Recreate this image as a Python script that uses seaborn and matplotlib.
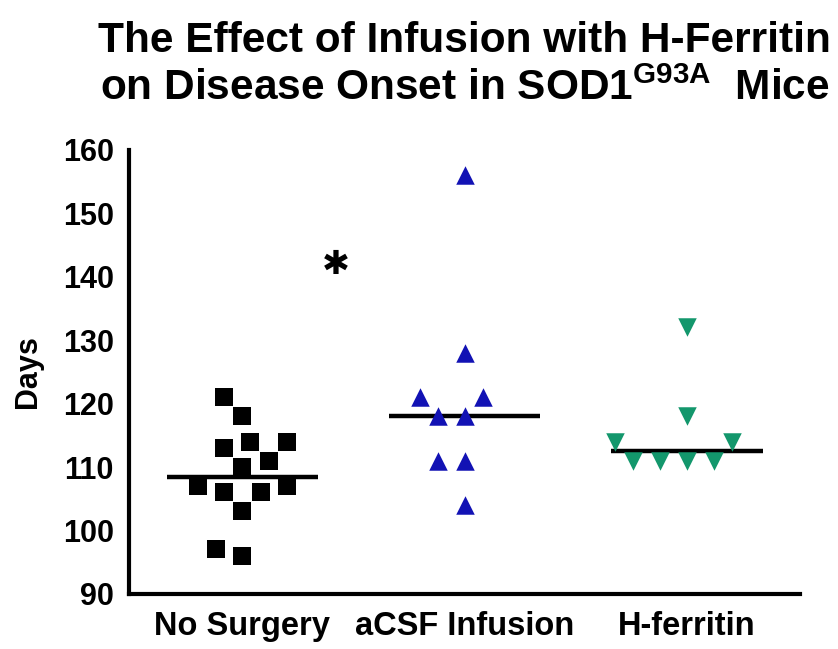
import pandas as pd
import matplotlib
matplotlib.use("Agg")
import matplotlib.pyplot as plt
from matplotlib.markers import MarkerStyle
from matplotlib.transforms import Affine2D
import seaborn as sns

# data (days to disease onset)
groups = ["No Surgery", "aCSF Infusion", "H-ferritin"]
no_surgery = [121, 118, 114, 113, 114, 110, 111, 107, 106, 106, 107, 103, 97, 96]
acsf = [156, 128, 121, 121, 118, 118, 111, 111, 104]
h_ferritin = [132, 118, 114, 114, 111, 111, 111, 111]
markers = ["s", "^", "v"]
colors = ["#000000", "#1212b4", "#13976c"]

df = pd.DataFrame({
    "group": [groups[0]] * len(no_surgery) + [groups[1]] * len(acsf) + [groups[2]] * len(h_ferritin),
    "days": no_surgery + acsf + h_ferritin,
})

sns.set_style("white")
plt.rcParams["font.family"] = ["Liberation Sans", "DejaVu Sans"]
plt.rcParams["mathtext.fontset"] = "custom"
plt.rcParams["mathtext.rm"] = "Liberation Sans"
plt.rcParams["mathtext.bf"] = "Liberation Sans:bold"
for k in ["text.color", "axes.labelcolor", "xtick.color", "ytick.color", "axes.edgecolor"]:
    plt.rcParams[k] = "black"

fig = plt.figure(figsize=(8.38, 6.49), dpi=100)
ax = fig.add_axes([0.154, 0.085, 0.801, 0.684])

# median lines
sns.boxplot(data=df, x="group", y="days", order=groups, width=0.68,
            showbox=False, showcaps=False, showfliers=False,
            whiskerprops={"visible": False},
            medianprops={"color": "black", "linewidth": 3.2}, ax=ax)

# scatter of individual mice; swarm spacing from a larger size, drawn smaller
for g, m, c in zip(groups, markers, colors):
    mk = MarkerStyle(m, transform=Affine2D().scale(0.72))
    sns.swarmplot(data=df[df["group"] == g], x="group", y="days", order=groups,
                  marker=mk, color=c, size=18.5, linewidth=0, ax=ax)

ax.set_xlim(-0.51, 2.51)
ax.set_ylim(90, 160)
ax.set_yticks(range(90, 161, 10))
sns.despine(ax=ax)
for s in ["left", "bottom"]:
    ax.spines[s].set_linewidth(3)
ax.tick_params(axis="y", direction="out", length=9, width=3, labelsize=22, pad=2)
ax.tick_params(axis="x", length=0, labelsize=23.5, pad=12)
for lab in ax.get_xticklabels() + ax.get_yticklabels():
    lab.set_fontweight("bold")
ax.set_xlabel("")
ax.set_ylabel("Days", fontsize=22, fontweight="bold", labelpad=14)

# significance mark
ax.text(0.42, 142, "\u2731", fontsize=24, ha="center", va="center",
        family=["DejaVu Sans"])

ax.set_title("The Effect of Infusion with H-Ferritin\n"
             "on Disease Onset in SOD1$^{\\mathbf{G93A}}$  Mice",
             fontsize=30.5, fontweight="bold", linespacing=1.25, pad=36)

fig.savefig("out.png", dpi=100)
